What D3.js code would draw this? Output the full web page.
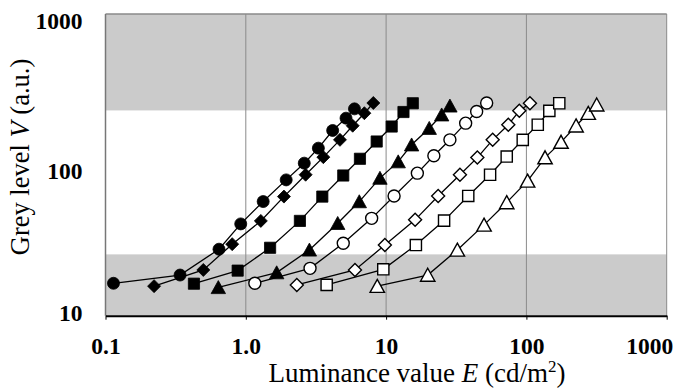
<!DOCTYPE html>
<html>
<head>
<meta charset="utf-8">
<script src="https://cdn.jsdelivr.net/npm/d3@7"></script>
<style>
  body { margin: 0; background: #fff; }
</style>
</head>
<body>
<div id="mainContainer"></div>
<script>
// luminance E (cd/m2) and grey level V for eight exposure settings
var xFilledCircle  = [0.114, 0.34, 0.644, 0.92, 1.33, 1.94, 2.61, 3.29, 4.16, 5.18, 5.95];
var yFilledCircle  = [16.4, 18.6, 27.6, 40.6, 57.1, 79.5, 102.6, 129, 169, 204, 235];
var xFilledDiamond = [0.222, 0.498, 0.80, 1.28, 1.87, 2.67, 3.57, 4.69, 5.78, 7.0, 8.11];
var yFilledDiamond = [15.7, 20.1, 29.8, 42.5, 61.6, 86, 112.5, 146.5, 181.7, 220, 257];
var xFilledSquare  = [0.427, 0.875, 1.49, 2.43, 3.51, 4.95, 6.51, 8.57, 10.96, 13.3, 15.5];
var yFilledSquare  = [16.3, 19.9, 28.2, 42.5, 61.6, 85, 109.7, 142.8, 179.5, 224, 256];
var xFilledTri     = [0.637, 1.66, 2.84, 4.52, 6.44, 9.04, 12.2, 15.2, 20.3, 24.9, 28.5];
var yFilledTri     = [15.4, 19.3, 27.3, 41.0, 57.1, 81.7, 105, 135.9, 175, 214.8, 246];
var xOpenCircle    = [1.16, 2.87, 4.95, 7.89, 11.4, 16.7, 21.9, 28.5, 36.9, 44.2, 52.1];
var yOpenCircle    = [16.4, 20.6, 30.2, 44.2, 62.2, 88.1, 114.8, 146.5, 189, 226, 257];
var xOpenDiamond   = [2.31, 6.0, 9.8, 16.1, 23.5, 33.6, 44.7, 57.5, 74.3, 89, 106];
var yOpenDiamond   = [16.0, 20.1, 29.4, 43.2, 62.2, 86, 111.7, 146.5, 184.4, 228, 256];
var xOpenSquare    = [3.77, 9.55, 16.3, 25.9, 38.5, 55.1, 72.4, 94.2, 120.5, 145.7, 171.5];
var yOpenSquare    = [16.0, 20.3, 29.4, 42.7, 62.2, 86, 113.5, 146.5, 184.4, 228, 256];
var xOpenTri       = [8.65, 19.8, 32.2, 49.9, 72.4, 102, 135.8, 176.6, 226, 276, 317];
var yOpenTri       = [15.7, 18.6, 27.3, 40.0, 56.3, 78.3, 111.7, 141.5, 181.7, 220, 250];

var xTicks = [0.1, 1, 10, 100, 1000];
var xTickLabels = ["0.1", "1.0", "10", "100", "1000"];
var yTicks = [10, 100, 1000];
var yTickLabels = ["10", "100", "1000"];
var bandLow = 25.5, bandHigh = 229.5;   // grey zones (10% / 90% of 255)

var seriesList = [
    { x: xFilledCircle,  y: yFilledCircle,  shape: "circle",   filled: true },
    { x: xFilledDiamond, y: yFilledDiamond, shape: "diamond",  filled: true },
    { x: xFilledSquare,  y: yFilledSquare,  shape: "square",   filled: true },
    { x: xFilledTri,     y: yFilledTri,     shape: "triangle", filled: true },
    { x: xOpenCircle,    y: yOpenCircle,    shape: "circle",   filled: false },
    { x: xOpenDiamond,   y: yOpenDiamond,   shape: "diamond",  filled: false },
    { x: xOpenSquare,    y: yOpenSquare,    shape: "square",   filled: false },
    { x: xOpenTri,       y: yOpenTri,       shape: "triangle", filled: false }
];

var serif = "Liberation Serif";

var margin = { top: 14, right: 12.3, bottom: 76.3, left: 105.5 },
    width = 679 - margin.left - margin.right,
    height = 392 - margin.top - margin.bottom;

var svg = d3.select('#mainContainer').append('svg')
    .attr('width', 679)
    .attr('height', 392);

var g = svg.append('g')
    .attr('transform', 'translate(' + margin.left + ',' + margin.top + ')');

var xscale = d3.scaleLog().domain([0.1, 1000]).range([0, width]);
var yscale = d3.scaleLog().domain([10, 1000]).range([height, 0]);

// grey bands
g.append("rect")
    .attr("x", 0).attr("y", yscale(1000))
    .attr("width", width).attr("height", yscale(bandHigh) - yscale(1000))
    .attr("fill", "#cbcbcb");
g.append("rect")
    .attr("x", 0).attr("y", yscale(bandLow))
    .attr("width", width).attr("height", yscale(10) - yscale(bandLow))
    .attr("fill", "#cbcbcb");

// vertical grid lines + frame
g.append("g")
    .selectAll("line")
    .data(xTicks.slice(1))
    .enter()
    .append("line")
    .attr("x1", function (d) { return xscale(d); })
    .attr("x2", function (d) { return xscale(d); })
    .attr("y1", 0).attr("y2", height)
    .attr("stroke", "#8a8a8a")
    .attr("stroke-width", 1);
g.append("line").attr("x1", 0).attr("x2", width).attr("y1", 0).attr("y2", 0)
    .attr("stroke", "#8a8a8a").attr("stroke-width", 1.5);
g.append("line").attr("x1", 0).attr("x2", 0).attr("y1", 0).attr("y2", height)
    .attr("stroke", "#777").attr("stroke-width", 1.5);

// x axis
var xAxis = g.append("g")
    .attr("transform", "translate(0," + height + ")")
    .attr("font-family", serif)
    .call(d3.axisBottom(xscale).tickValues(xTicks)
        .tickFormat(function (d, i) { return xTickLabels[i]; })
        .tickSize(4).tickSizeOuter(0));
xAxis.attr("font-family", serif);
xAxis.select(".domain").attr("stroke", "#000").attr("stroke-width", 2);
xAxis.selectAll(".tick line").attr("stroke", "#000").attr("stroke-width", 1);
xAxis.selectAll(".tick text")
    .attr("y", 22)
    .attr("font-family", serif)
    .attr("font-weight", "bold")
    .attr("font-size", "23.5px")
    .attr("fill", "#000");
xAxis.selectAll(".tick text").filter(function (d) { return d === 1000; })
    .attr("text-anchor", "end").attr("dx", 6);

// y axis labels
var yAxis = g.append("g")
    .call(d3.axisLeft(yscale).tickValues(yTicks)
        .tickFormat(function (d, i) { return yTickLabels[i]; })
        .tickSize(0).tickPadding(23));
yAxis.attr("font-family", serif);
yAxis.select(".domain").remove();
yAxis.selectAll(".tick text")
    .attr("dy", function (d) { return d === 10 ? "0.2em" : "0.6em"; })
    .attr("font-family", serif)
    .attr("font-weight", "bold")
    .attr("font-size", "23.5px")
    .attr("fill", "#000");

// axis titles
var xTitle = svg.append("text")
    .attr("x", 417)
    .attr("y", 382)
    .attr("text-anchor", "middle")
    .attr("font-family", serif)
    .attr("font-size", "27px")
    .attr("fill", "black");
xTitle.append("tspan").text("Luminance value ");
xTitle.append("tspan").attr("font-style", "italic").text("E");
xTitle.append("tspan").text(" (cd/m");
xTitle.append("tspan").attr("font-size", "17px").attr("dy", -10).text("2");
xTitle.append("tspan").attr("dy", 10).text(")");

var yTitle = svg.append("text")
    .attr("transform", "translate(29,157) rotate(-90)")
    .attr("text-anchor", "middle")
    .attr("font-family", serif)
    .attr("font-size", "26.5px")
    .attr("fill", "black");
yTitle.append("tspan").text("Grey level ");
yTitle.append("tspan").attr("font-style", "italic").text("V");
yTitle.append("tspan").text(" (a.u.)");

// marker shapes, centred on the data point
function markerPath(shape) {
    if (shape === "circle") return d3.symbol().type(d3.symbolCircle).size(Math.PI * 36)();
    if (shape === "square") return "M-5.6,-5.6H5.6V5.6H-5.6Z";
    if (shape === "diamond") return "M0,-6.5L6.5,0L0,6.5L-6.5,0Z";
    return "M0,-6.8L7.2,6.2L-7.2,6.2Z";
}

var line = d3.line()
    .x(function (d) { return xscale(d.x); })
    .y(function (d) { return yscale(d.y); });

seriesList.forEach(function (s) {
    var pts = [];
    for (var i = 0; i < s.x.length && i < s.y.length; i++) {
        pts.push({ x: s.x[i], y: s.y[i] });
    }
    g.append("path")
        .datum(pts)
        .attr("d", line)
        .attr("fill", "none")
        .attr("stroke", "black")
        .attr("stroke-width", 1.3);

    g.append("g")
        .selectAll("path")
        .data(pts)
        .enter()
        .append("path")
        .attr("transform", function (d) { return "translate(" + xscale(d.x) + "," + yscale(d.y) + ")"; })
        .attr("d", markerPath(s.shape))
        .attr("fill", s.filled ? "black" : "white")
        .attr("stroke", "black")
        .attr("stroke-width", s.filled ? 0.8 : 1.4);
});
</script>
</body>
</html>
